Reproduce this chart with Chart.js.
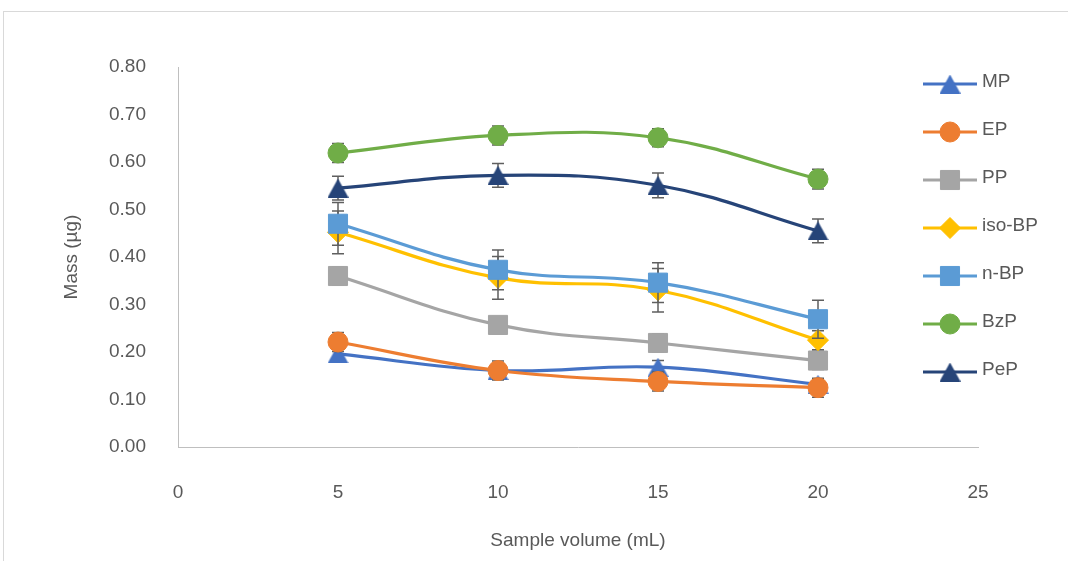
<!DOCTYPE html>
<html>
<head>
<meta charset="utf-8">
<script src="https://cdn.jsdelivr.net/npm/chart.js@4/dist/chart.umd.min.js"></script>
<style>
  html, body { margin: 0; padding: 0; background: #ffffff; }
  #wrap { width: 1068px; height: 561px; }
</style>
</head>
<body>
<div id="wrap"><canvas id="chart" width="1068" height="561"></canvas></div>
<script>
// Sample volumes (mL)
const volumes = [5, 10, 15, 20];
const seriesNames = ['MP', 'EP', 'PP', 'iso-BP', 'n-BP', 'BzP', 'PeP'];

// Mean recovered mass (µg) per series
const mp    = [0.196, 0.161, 0.168, 0.132];
const ep    = [0.221, 0.161, 0.138, 0.125];
const pp    = [0.360, 0.257, 0.219, 0.182];
const isoBp = [0.452, 0.356, 0.330, 0.225];
const nBp   = [0.470, 0.373, 0.346, 0.269];
const bzp   = [0.619, 0.656, 0.651, 0.564];
const pep   = [0.545, 0.572, 0.551, 0.455];

// Standard deviations (µg)
const mpErr    = [0.010, 0.010, 0.014, 0.010];
const epErr    = [0.020, 0.020, 0.020, 0.020];
const ppErr    = [0.019, 0.018, 0.019, 0.019];
const isoBpErr = [0.045, 0.045, 0.046, 0.020];
const nBpErr   = [0.045, 0.042, 0.042, 0.040];
const bzpErr   = [0.020, 0.020, 0.019, 0.021];
const pepErr   = [0.025, 0.025, 0.026, 0.025];

// Y-axis tick values
const yTicks = [0, 0.1, 0.2, 0.3, 0.4, 0.5, 0.6, 0.7, 0.8];

const seriesValues = [mp, ep, pp, isoBp, nBp, bzp, pep];
const seriesErrors = [mpErr, epErr, ppErr, isoBpErr, nBpErr, bzpErr, pepErr];
const seriesColors = ['#4472C4', '#ED7D31', '#A5A5A5', '#FFC000', '#5B9BD5', '#70AD47', '#264478'];

// Centered triangle marker drawn into a small canvas
function triangleMarker(color, w, h) {
  const c = document.createElement('canvas');
  c.width = w; c.height = h;
  const g = c.getContext('2d');
  g.fillStyle = color;
  g.beginPath();
  g.moveTo(w / 2, 0);
  g.lineTo(w, h);
  g.lineTo(0, h);
  g.closePath();
  g.fill();
  return c;
}

const seriesStyles = [
  triangleMarker('#4472C4', 21, 19), 'circle', 'rect', 'rectRot', 'rect', 'circle',
  triangleMarker('#264478', 21, 19)
];
const seriesRadius = [11, 10, 13.5, 10.5, 13.5, 10, 11];

const textColor = '#595959';
const fontFamily = '"Liberation Sans", Arial, sans-serif';

const datasets = seriesNames.map((name, i) => ({
  label: name,
  data: volumes.map((v, j) => ({ x: v, y: seriesValues[i][j] })),
  errors: seriesErrors[i],
  borderColor: seriesColors[i],
  backgroundColor: seriesColors[i],
  borderWidth: 3.2,
  tension: 0.4,
  pointStyle: seriesStyles[i],
  pointRadius: seriesRadius[i],
  pointHoverRadius: seriesRadius[i],
  pointBorderWidth: 1,
  pointBorderColor: seriesColors[i],
  pointBackgroundColor: seriesColors[i],
  fill: false,
  // later series are painted on top
  order: seriesNames.length - i
}));

// Outer frame around the figure
const framePlugin = {
  id: 'frame',
  beforeDraw(chart) {
    const ctx = chart.ctx;
    ctx.save();
    ctx.fillStyle = '#ffffff';
    ctx.fillRect(0, 0, chart.width, chart.height);
    ctx.strokeStyle = '#d9d9d9';
    ctx.lineWidth = 1;
    ctx.strokeRect(3.5, 11.5, chart.width + 20, chart.height + 20);
    ctx.restore();
  }
};

// Vertical error bars with caps, drawn under each series' line and markers
const errorBarPlugin = {
  id: 'errorBars',
  beforeDatasetDraw(chart, args) {
    const ds = chart.data.datasets[args.index];
    if (!ds.errors) return;
    const ctx = chart.ctx;
    const yScale = chart.scales.y;
    ctx.save();
    ctx.strokeStyle = '#5f5f5f';
    ctx.lineWidth = 1.5;
    args.meta.data.forEach((pt, j) => {
      const v = ds.data[j].y;
      const e = ds.errors[j];
      const x = pt.x;
      const yTop = yScale.getPixelForValue(v + e);
      const yBot = yScale.getPixelForValue(v - e);
      ctx.beginPath();
      ctx.moveTo(x, yTop); ctx.lineTo(x, yBot);
      ctx.moveTo(x - 6, yTop); ctx.lineTo(x + 6, yTop);
      ctx.moveTo(x - 6, yBot); ctx.lineTo(x + 6, yBot);
      ctx.stroke();
    });
    ctx.restore();
  }
};

// Legend to the right: line sample with marker, then the series name
const sideLegendPlugin = {
  id: 'sideLegend',
  afterDraw(chart) {
    const ctx = chart.ctx;
    const x0 = chart.chartArea.right - 55;
    const x1 = chart.chartArea.right - 1;
    const xm = (x0 + x1) / 2;
    const top = 84;
    const step = 48;
    ctx.save();
    seriesNames.forEach((name, i) => {
      const y = top + step * i;
      ctx.strokeStyle = seriesColors[i];
      ctx.lineWidth = 3.2;
      ctx.beginPath();
      ctx.moveTo(x0, y); ctx.lineTo(x1, y);
      ctx.stroke();
      ctx.fillStyle = seriesColors[i];
      ctx.strokeStyle = seriesColors[i];
      ctx.lineWidth = 1;
      Chart.helpers.drawPoint(ctx, { pointStyle: seriesStyles[i], radius: seriesRadius[i], rotation: 0, borderWidth: 1 }, xm, y);
      ctx.fillStyle = textColor;
      ctx.font = '19px ' + fontFamily;
      ctx.textAlign = 'left';
      ctx.textBaseline = 'middle';
      ctx.fillText(name, x1 + 5, y - 2);
    });
    ctx.restore();
  }
};

new Chart(document.getElementById('chart'), {
  type: 'line',
  data: { datasets },
  plugins: [framePlugin, errorBarPlugin, sideLegendPlugin],
  options: {
    responsive: false,
    animation: false,
    devicePixelRatio: 1,
    layout: { padding: { top: 67, right: 90, bottom: 0, left: 0 } },
    plugins: { legend: { display: false }, tooltip: { enabled: false } },
    scales: {
      x: {
        type: 'linear',
        min: 0,
        max: 25,
        grid: { display: false, drawTicks: false },
        border: { display: true, color: '#bfbfbf', width: 1 },
        ticks: { stepSize: 5, padding: 34, color: textColor, font: { family: fontFamily, size: 19 } },
        title: {
          display: true,
          text: 'Sample volume (mL)',
          color: textColor,
          font: { family: fontFamily, size: 19 },
          padding: { top: 0, bottom: 9 }
        },
        afterFit(scale) { scale.height = 114; }
      },
      y: {
        type: 'linear',
        min: 0,
        max: 0.8,
        grid: { display: false, drawTicks: false },
        border: { display: true, color: '#bfbfbf', width: 1 },
        afterBuildTicks(scale) { scale.ticks = yTicks.map(v => ({ value: v })); },
        ticks: {
          padding: 32,
          color: textColor,
          font: { family: fontFamily, size: 19 },
          callback: v => Number(v).toFixed(2)
        },
        title: {
          display: true,
          text: 'Mass (µg)',
          color: textColor,
          font: { family: fontFamily, size: 19 },
          padding: { top: 60, bottom: 0 }
        },
        afterFit(scale) { scale.width = 178; }
      }
    }
  }
});
</script>
</body>
</html>
